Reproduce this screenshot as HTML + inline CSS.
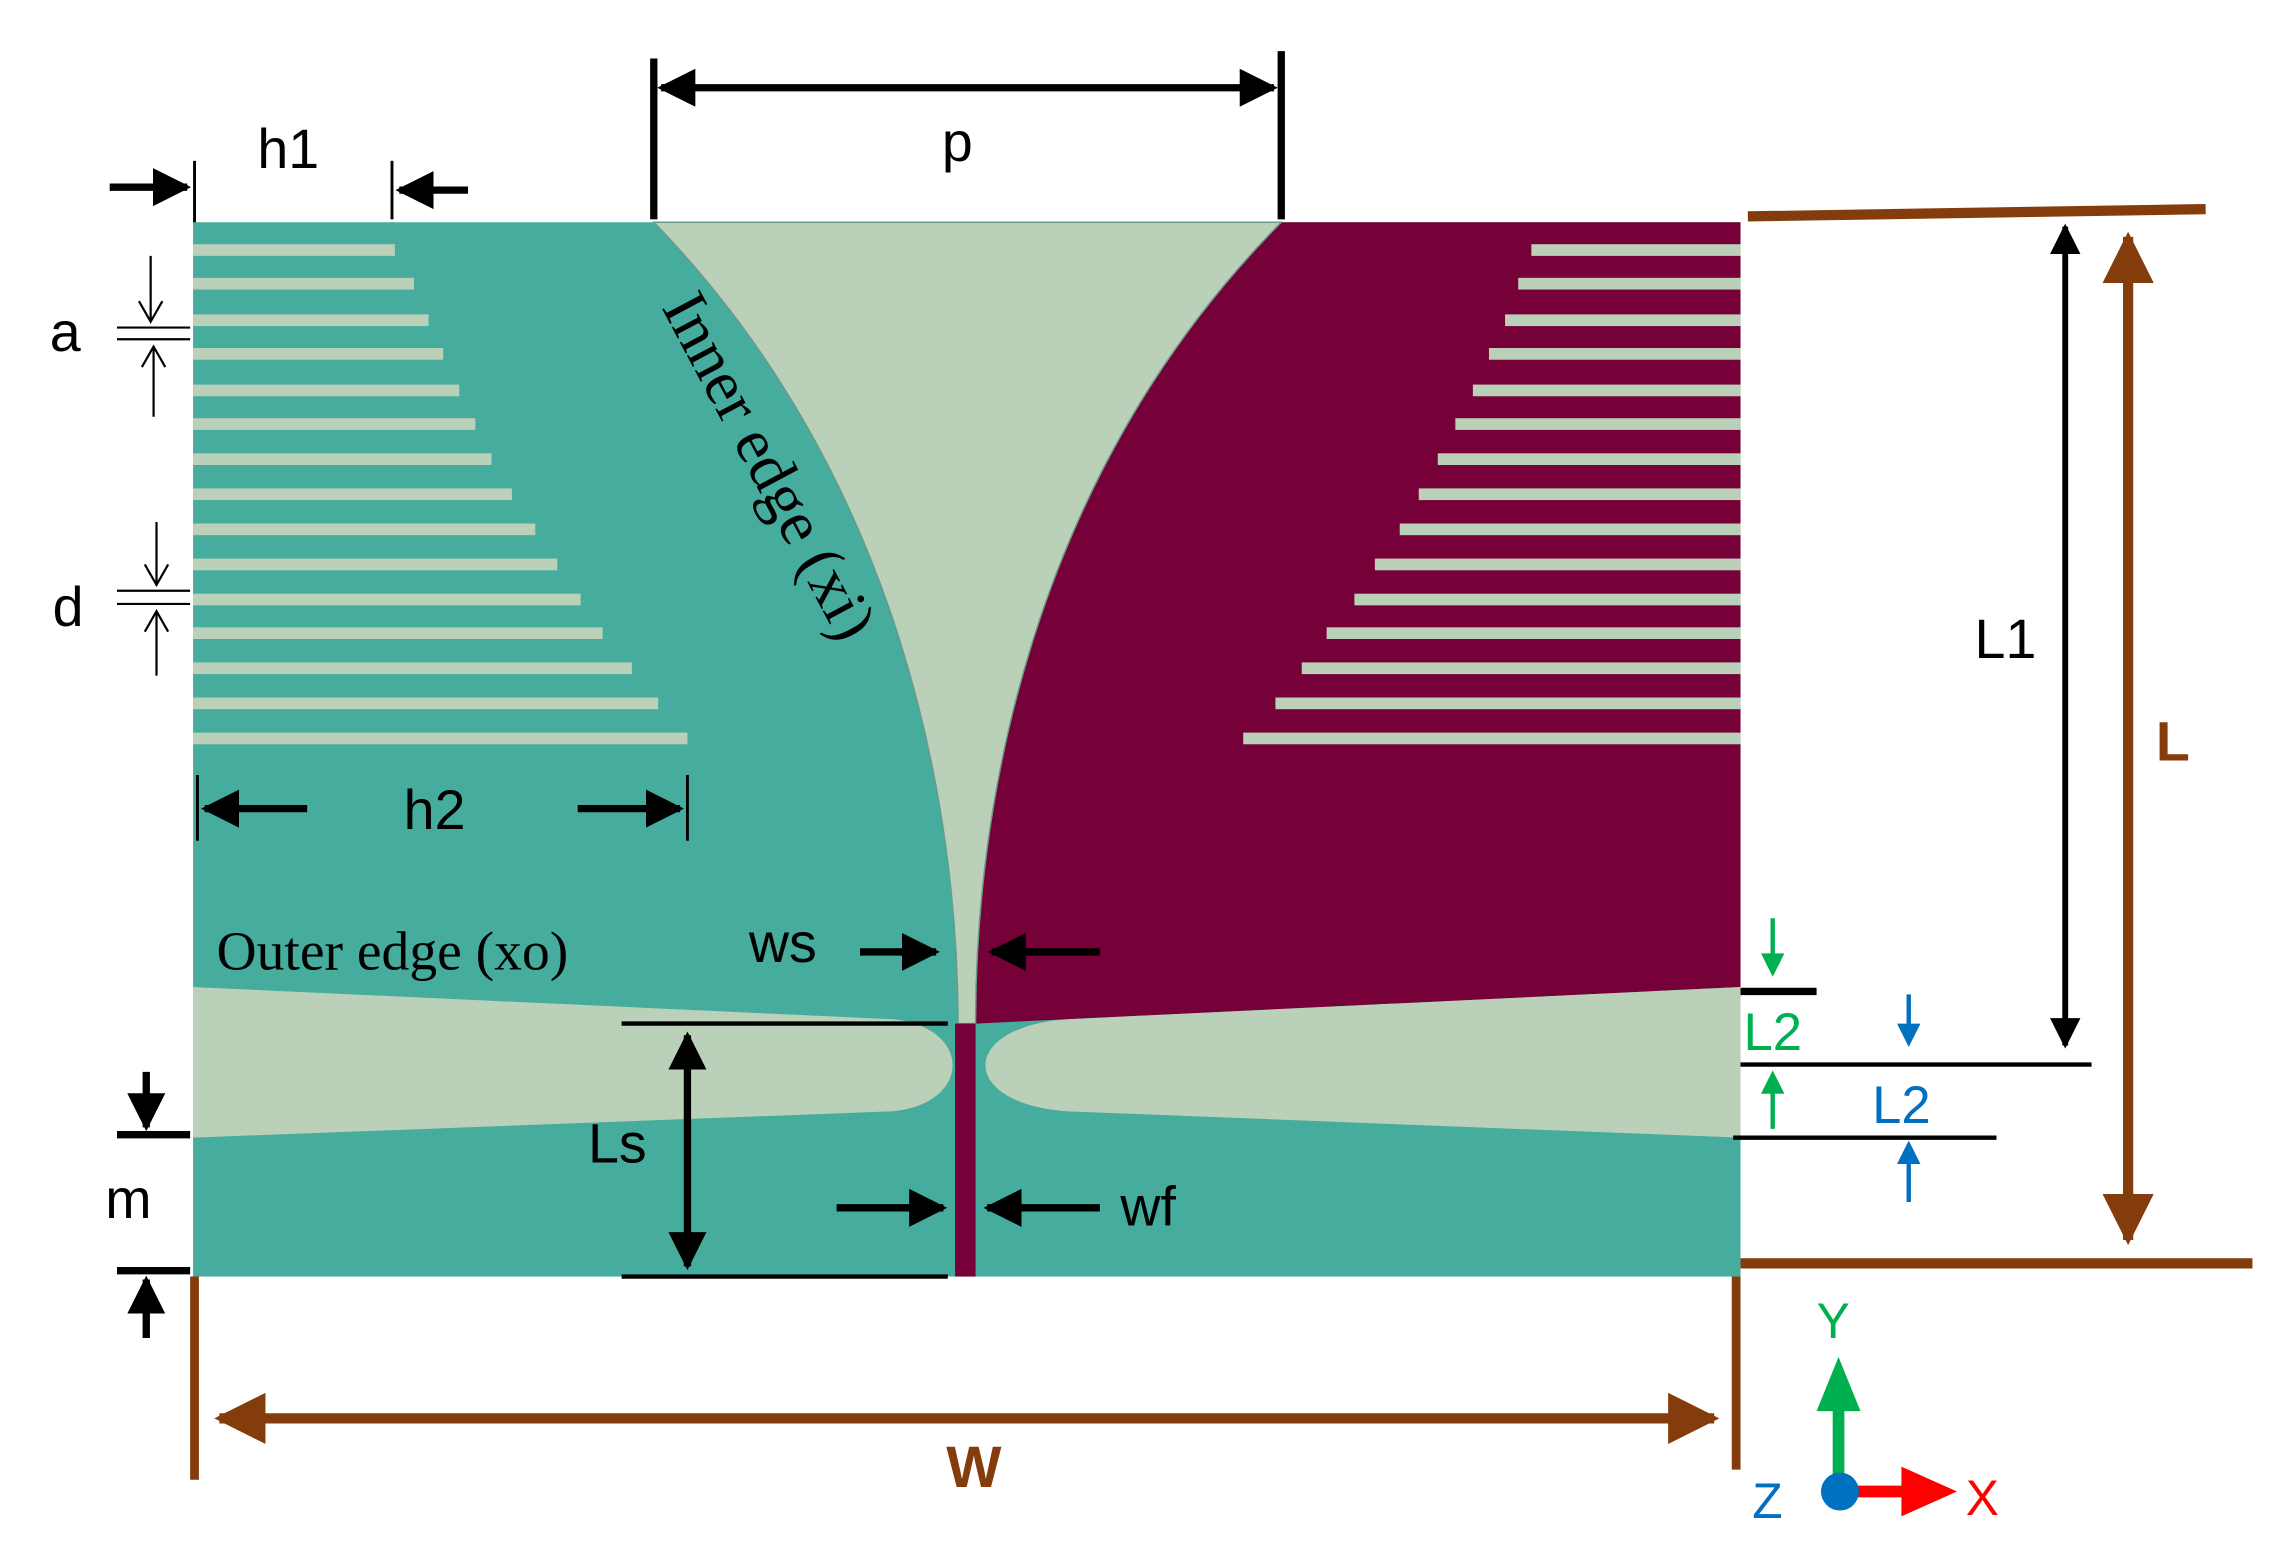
<!DOCTYPE html>
<html><head><meta charset="utf-8"><style>
html,body{margin:0;padding:0;background:#fff;}
svg{display:block;}
text{font-family:"Liberation Sans",sans-serif;}
.s{font-family:"Liberation Serif",serif;}
</style></head><body>
<svg width="2270" height="1550" viewBox="0 0 1552 1060" preserveAspectRatio="none" xmlns="http://www.w3.org/2000/svg">
<defs>
<marker id="ab" viewBox="0 0 10 10" refX="9" refY="5" markerWidth="5.2" markerHeight="5.2" orient="auto-start-reverse"><path d="M0,0 L10,5 L0,10 z" fill="#000"/></marker>
<marker id="abr" viewBox="0 0 10 10" refX="9" refY="5" markerWidth="5" markerHeight="5" orient="auto-start-reverse"><path d="M0,0 L10,5 L0,10 z" fill="#843c0c"/></marker>
</defs>
<rect x="132" y="152" width="1058" height="721" fill="#45ac9e"/>
<path d="M876,152 L1190,152 L1190,675 L667,700 C667,560 700,330 876,152 Z" fill="#760038"/>
<path d="M447,152 L876,152 C700,330 667,560 667,700 L655,700 C655,560 620,330 447,152 Z" fill="#bad0b8" stroke="#6a9a8a" stroke-width="1"/>
<path d="M132,675 L610,697 C665,702 665,755 610,760 L132,778 Z" fill="#bad0b8"/>
<path d="M1190,675 L730,697 C655,702 655,755 730,760 L1190,778 Z" fill="#bad0b8"/>
<rect x="653" y="700" width="14" height="173" fill="#760038"/>
<g fill="#bad0b8">
<rect x="132" y="167" width="138" height="8"/>
<rect x="132" y="190" width="151" height="8"/>
<rect x="132" y="215" width="161" height="8"/>
<rect x="132" y="238" width="171" height="8"/>
<rect x="132" y="263" width="182" height="8"/>
<rect x="132" y="286" width="193" height="8"/>
<rect x="132" y="310" width="204" height="8"/>
<rect x="132" y="334" width="218" height="8"/>
<rect x="132" y="358" width="234" height="8"/>
<rect x="132" y="382" width="249" height="8"/>
<rect x="132" y="406" width="265" height="8"/>
<rect x="132" y="429" width="280" height="8"/>
<rect x="132" y="453" width="300" height="8"/>
<rect x="132" y="477" width="318" height="8"/>
<rect x="132" y="501" width="338" height="8"/>
<rect x="1047" y="167" width="143" height="8"/>
<rect x="1038" y="190" width="152" height="8"/>
<rect x="1029" y="215" width="161" height="8"/>
<rect x="1018" y="238" width="172" height="8"/>
<rect x="1007" y="263" width="183" height="8"/>
<rect x="995" y="286" width="195" height="8"/>
<rect x="983" y="310" width="207" height="8"/>
<rect x="970" y="334" width="220" height="8"/>
<rect x="957" y="358" width="233" height="8"/>
<rect x="940" y="382" width="250" height="8"/>
<rect x="926" y="406" width="264" height="8"/>
<rect x="907" y="429" width="283" height="8"/>
<rect x="890" y="453" width="300" height="8"/>
<rect x="872" y="477" width="318" height="8"/>
<rect x="850" y="501" width="340" height="8"/>
</g>
<g stroke="#000" fill="none">
<line x1="447" y1="40" x2="447" y2="150" stroke-width="5"/>
<line x1="876" y1="35" x2="876" y2="150" stroke-width="5"/>
<line x1="452" y1="60" x2="871" y2="60" stroke-width="5" marker-start="url(#ab)" marker-end="url(#ab)"/>
<line x1="133" y1="110" x2="133" y2="152" stroke-width="2"/>
<line x1="268" y1="110" x2="268" y2="150" stroke-width="2"/>
<line x1="75" y1="128" x2="128" y2="128" stroke-width="5" marker-end="url(#ab)"/>
<line x1="320" y1="130" x2="273" y2="130" stroke-width="5" marker-end="url(#ab)"/>
<line x1="80" y1="224" x2="130" y2="224" stroke-width="1.5"/>
<line x1="80" y1="232" x2="130" y2="232" stroke-width="1.5"/>
<path d="M103,175 V220 M95,206 L103,220 L111,206" stroke-width="1.5"/>
<path d="M105,285 V237 M97,251 L105,237 L113,251" stroke-width="1.5"/>
<line x1="80" y1="404" x2="130" y2="404" stroke-width="1.5"/>
<line x1="80" y1="413" x2="130" y2="413" stroke-width="1.5"/>
<path d="M107,357 V400 M99,386 L107,400 L115,386" stroke-width="1.5"/>
<path d="M107,462 V418 M99,432 L107,418 L115,432" stroke-width="1.5"/>
<line x1="135" y1="530" x2="135" y2="575" stroke-width="2"/>
<line x1="470" y1="530" x2="470" y2="575" stroke-width="2"/>
<line x1="210" y1="553" x2="140" y2="553" stroke-width="5" marker-end="url(#ab)"/>
<line x1="395" y1="553" x2="465" y2="553" stroke-width="5" marker-end="url(#ab)"/>
<line x1="588" y1="651" x2="640" y2="651" stroke-width="5" marker-end="url(#ab)"/>
<line x1="752" y1="651" x2="678" y2="651" stroke-width="5" marker-end="url(#ab)"/>
<line x1="425" y1="700" x2="648" y2="700" stroke-width="3"/>
<line x1="425" y1="873" x2="648" y2="873" stroke-width="3"/>
<line x1="470" y1="708" x2="470" y2="866" stroke-width="5" marker-start="url(#ab)" marker-end="url(#ab)"/>
<line x1="572" y1="826" x2="645" y2="826" stroke-width="5" marker-end="url(#ab)"/>
<line x1="752" y1="826" x2="675" y2="826" stroke-width="5" marker-end="url(#ab)"/>
<line x1="80" y1="776" x2="130" y2="776" stroke-width="5"/>
<line x1="80" y1="869" x2="130" y2="869" stroke-width="5"/>
<line x1="100" y1="733" x2="100" y2="771" stroke-width="5" marker-end="url(#ab)"/>
<line x1="100" y1="915" x2="100" y2="875" stroke-width="5" marker-end="url(#ab)"/>
<line x1="1412" y1="155" x2="1412" y2="715" stroke-width="4" marker-start="url(#ab)" marker-end="url(#ab)"/>
<line x1="1190" y1="728" x2="1430" y2="728" stroke-width="3"/>
<line x1="1190" y1="678" x2="1242" y2="678" stroke-width="5"/>
<line x1="1185" y1="778" x2="1365" y2="778" stroke-width="3"/>
</g>
<g stroke-width="3">
<path d="M1212,628 V662" stroke="#00b050"/><path d="M1204,652 L1212,668 L1220,652 z" fill="#00b050"/>
<path d="M1212,772 V742" stroke="#00b050"/><path d="M1204,748 L1212,732 L1220,748 z" fill="#00b050"/>
<path d="M1305,680 V712" stroke="#0070c0"/><path d="M1297,700 L1305,716 L1313,700 z" fill="#0070c0"/>
<path d="M1305,822 V790" stroke="#0070c0"/><path d="M1297,796 L1305,780 L1313,796 z" fill="#0070c0"/>
</g>
<g stroke="#843c0c" fill="none" stroke-width="7">
<line x1="1195" y1="148" x2="1508" y2="143"/>
<line x1="1190" y1="864" x2="1540" y2="864"/>
<line x1="1455" y1="162" x2="1455" y2="848" marker-start="url(#abr)" marker-end="url(#abr)"/>
<line x1="133" y1="873" x2="133" y2="1012" stroke-width="6"/>
<line x1="1187" y1="873" x2="1187" y2="1005" stroke-width="6"/>
<line x1="150" y1="970" x2="1172" y2="970" marker-start="url(#abr)" marker-end="url(#abr)"/>
</g>
<line x1="1257" y1="1018" x2="1257" y2="960" stroke="#00b050" stroke-width="8"/>
<path d="M1242,965 L1257,928 L1272,965 z" fill="#00b050"/>
<line x1="1260" y1="1020" x2="1305" y2="1020" stroke="#ff0000" stroke-width="8"/>
<path d="M1300,1003 L1338,1020 L1300,1037 z" fill="#ff0000"/>
<circle cx="1258" cy="1020" r="13" fill="#0070c0"/>
<g font-size="38" fill="#000">
<text x="176" y="115">h1</text>
<text x="644" y="110">p</text>
<text x="34" y="240">a</text>
<text x="36" y="428">d</text>
<text x="276" y="567">h2</text>
<text x="512" y="658">ws</text>
<text x="402" y="795">Ls</text>
<text x="766" y="838">wf</text>
<text x="72" y="833">m</text>
<text x="1350" y="450">L1</text>
<text class="s" x="148" y="663" font-size="38">Outer edge (xo)</text>
<text class="s" x="0" y="0" font-size="44" transform="translate(452,210) rotate(62)">Inner edge (xi)</text>
</g>
<text x="1192" y="718" font-size="36" fill="#00b050">L2</text>
<text x="1280" y="768" font-size="36" fill="#0070c0">L2</text>
<text x="1474" y="520" font-size="38" fill="#843c0c" font-weight="bold">L</text>
<text x="647" y="1017" font-size="40" fill="#843c0c" font-weight="bold">W</text>
<text x="1242" y="915" font-size="34" fill="#00b050">Y</text>
<text x="1344" y="1036" font-size="34" fill="#ff0000">X</text>
<text x="1198" y="1038" font-size="34" fill="#0070c0">Z</text>
</svg>
</body></html>
